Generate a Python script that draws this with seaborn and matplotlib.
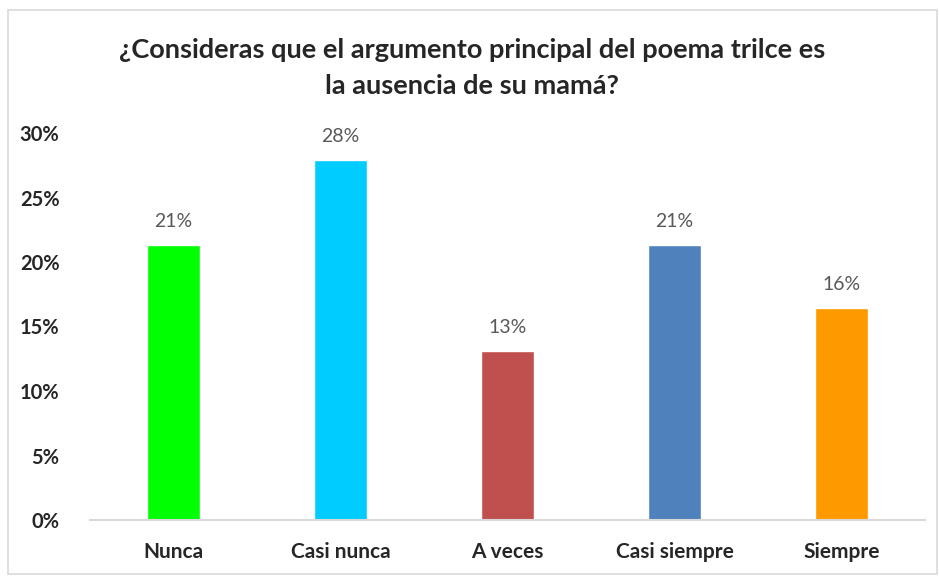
import matplotlib
matplotlib.use("Agg")
import seaborn as sns
import matplotlib.pyplot as plt
from matplotlib.patches import Rectangle

# Data
categories = ["Nunca", "Casi nunca", "A veces", "Casi siempre", "Siempre"]
values = [0.213, 0.279, 0.131, 0.213, 0.164]
labels = ["21%", "28%", "13%", "21%", "16%"]
colors = ["#00FF00", "#00CCFF", "#C0504D", "#4F81BD", "#FF9900"]
yticks = [0, 0.05, 0.10, 0.15, 0.20, 0.25, 0.30]
ytick_labels = ["0%", "5%", "10%", "15%", "20%", "25%", "30%"]

sns.set_style("white")
plt.rcParams["font.family"] = ["Lato", "DejaVu Sans"]

fig = plt.figure(figsize=(9.39, 5.76), dpi=100)
ax = fig.add_axes([90 / 939, 1 - 520 / 576, 835 / 939, (520 - 133) / 576])

sns.barplot(x=categories, y=values, hue=categories, palette=colors,
            legend=False, width=0.32, saturation=1, ax=ax)

for i, (v, lab) in enumerate(zip(values, labels)):
    ax.text(i, v + 0.012, lab, ha="center", va="bottom",
            fontsize=14, color="#595959")

ax.set_ylim(0, 0.30)
ax.set_xlim(-0.5, 4.5)
ax.set_yticks(yticks, ytick_labels, fontweight="bold", fontsize=14.5)
ax.set_xticks(range(len(categories)), categories, fontweight="bold", fontsize=15)
ax.tick_params(axis="both", length=0)
ax.tick_params(axis="y", pad=22)
ax.tick_params(axis="x", pad=16)
ax.set_xlabel("")
ax.set_ylabel("")
for s in ["top", "right", "left"]:
    ax.spines[s].set_visible(False)
ax.spines["bottom"].set_color("#D9D9D9")
ax.spines["bottom"].set_linewidth(1.5)

fig.text(472 / 939, 1 - 68 / 576,
         "¿Consideras que el argumento principal del poema trilce es\nla ausencia de su mamá?",
         ha="center", va="center", fontsize=19.5, fontweight="bold",
         linespacing=1.55)

# chart border
fig.patches.append(Rectangle((8 / 939, 2 / 576), 929 / 939, 564 / 576,
                             transform=fig.transFigure, fill=False,
                             edgecolor="#D9D9D9", linewidth=1.2))

fig.savefig("out.png", dpi=100)
